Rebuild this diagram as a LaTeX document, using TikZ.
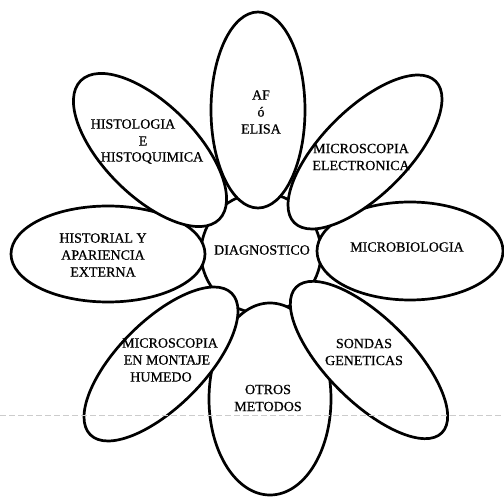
\documentclass[tikz,border=0pt]{standalone}
\usepackage{fontspec}
\setmainfont{Liberation Serif}[FakeBold=0.7]
\begin{document}
\begin{tikzpicture}[x=1pt,y=-1pt,
  petal/.style={draw=black, fill=white, line width=2.7pt},
  hub/.style={draw=black, fill=white, line width=2.7pt},
  lbl/.style={font=\fontsize{14}{17}\selectfont, align=center, inner sep=0pt}]
\useasboundingbox (0,0) rectangle (504,497);
\fill[white] (0,0) rectangle (504,497);
% hub behind the petals
\draw[hub] (261,253) circle [radius=60];
% cardinal petals
\draw[petal] (258,110) ellipse [x radius=47, y radius=98];
\draw[petal] (410,251) ellipse [x radius=93, y radius=49];
\draw[petal] (270,399) ellipse [x radius=61, y radius=96];
\draw[petal] (108,254) ellipse [x radius=97, y radius=48];
% diagonal petals on top
\draw[petal, rotate around={-45:(150,150)}] (150,150) ellipse [x radius=98, y radius=46];
\draw[petal, rotate around={45:(365,152)}] (365,152) ellipse [x radius=100, y radius=43];
\draw[petal, rotate around={-45:(369,360)}] (369,360) ellipse [x radius=103, y radius=42];
\draw[petal, rotate around={45:(161,364)}] (161,364) ellipse [x radius=100, y radius=43];
% labels
\node[lbl] (dx) at (262,250) {DIAGNOSTICO};
\node[lbl] (af) at (261,112) {AF\\ó\\ELISA};
\node[lbl] (me) at (361,157) {MICROSCOPIA\\ELECTRONICA};
\node[lbl] (mb) at (407,247) {MICROBIOLOGIA};
\node[lbl] (sg) at (364,352) {SONDAS\\GENETICAS};
\node[lbl] (om) at (268,398) {OTROS\\METODOS};
\node[lbl] (hm1) at (170,343) {MICROSCOPIA};
\node[lbl] (hm2) at (167,360) {EN MONTAJE};
\node[lbl] (hm3) at (161,377) {HUMEDO};
\node[lbl] (ha) at (103,255) {HISTORIAL Y\\APARIENCIA\\EXTERNA};
\node[lbl] (hh1) at (133,124) {HISTOLOGIA};
\node[lbl] (hh2) at (143,141) {E};
\node[lbl] (hh3) at (152,158) {HISTOQUIMICA};
% faint scan line
\draw[gray!40, line width=0.6pt, dash pattern=on 6pt off 3pt] (0,415) -- (504,415);
\end{tikzpicture}
\end{document}
